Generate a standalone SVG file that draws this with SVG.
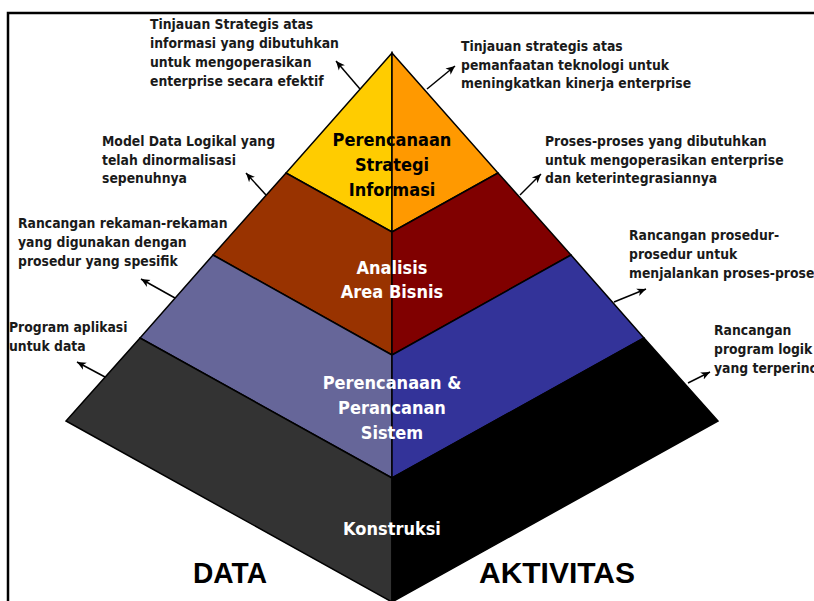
<svg xmlns="http://www.w3.org/2000/svg" width="814" height="601" viewBox="0 0 814 601">
<defs>
<marker id="ah" markerWidth="10" markerHeight="10" refX="9" refY="5" orient="auto" markerUnits="userSpaceOnUse">
<path d="M0,1 L9,5 L0,9 L2.5,5 Z" fill="#000"/>
</marker>
<style>
.face{stroke:#000;stroke-width:1.5;stroke-linejoin:miter}
.ann{font-family:"DejaVu Sans Condensed","DejaVu Sans",sans-serif;font-stretch:condensed;font-weight:bold;font-size:13.8px;fill:#1a1a1a}
.lbl{font-family:"DejaVu Sans Condensed","DejaVu Sans",sans-serif;font-stretch:condensed;font-weight:bold;font-size:18px;text-anchor:middle}
.big{font-family:"Liberation Sans",Arial,sans-serif;font-weight:bold;font-size:29px;fill:#000}
.arr{stroke:#000;stroke-width:1.5;fill:none;marker-end:url(#ah)}
</style>
</defs>
<rect x="0" y="0" width="814" height="601" fill="#fff"/>
<rect x="8" y="13" width="830" height="620" fill="none" stroke="#000" stroke-width="2.5"/>

<g id="layer-strategi">
<polygon class="face" points="392,53 286,173 392,232" fill="#FFCC00"/>
<polygon class="face" points="392,53 498,173 392,232" fill="#FF9900"/>
<text class="lbl" fill="#000"><tspan x="392" y="146">Perencanaan</tspan><tspan x="392" y="171">Strategi</tspan><tspan x="392" y="196">Informasi</tspan></text>
</g>
<g id="layer-analisis">
<polygon class="face" points="286,173 213,255 392,355 392,232" fill="#993300"/>
<polygon class="face" points="498,173 571,255 392,355 392,232" fill="#800000"/>
<text class="lbl" fill="#fff"><tspan x="392" y="274">Analisis</tspan><tspan x="392" y="298">Area Bisnis</tspan></text>
</g>
<g id="layer-perancangan">
<polygon class="face" points="213,255 140,338 392,478 392,355" fill="#666699"/>
<polygon class="face" points="571,255 644,338 392,478 392,355" fill="#333399"/>
<text class="lbl" fill="#fff"><tspan x="392" y="389">Perencanaan &amp;</tspan><tspan x="392" y="414">Perancanan</tspan><tspan x="392" y="439">Sistem</tspan></text>
</g>
<g id="layer-konstruksi">
<polygon class="face" points="140,338 66,421 392,602 392,478" fill="#333333"/>
<polygon class="face" points="644,338 718,421 392,602 392,478" fill="#000000"/>
<text class="lbl" fill="#fff" x="392" y="535">Konstruksi</text>
</g>

<g id="label-data"><text class="big" x="193" y="583" textLength="74" lengthAdjust="spacingAndGlyphs">DATA</text></g>
<g id="label-aktivitas"><text class="big" x="479" y="583" textLength="156" lengthAdjust="spacingAndGlyphs">AKTIVITAS</text></g>

<g id="ann-1"><text class="ann"><tspan x="150" y="29">Tinjauan Strategis atas</tspan><tspan x="150" y="48">informasi yang dibutuhkan</tspan><tspan x="150" y="67">untuk mengoperasikan</tspan><tspan x="150" y="86">enterprise secara efektif</tspan></text></g>
<g id="ann-2"><text class="ann"><tspan x="461" y="51">Tinjauan strategis atas</tspan><tspan x="461" y="70">pemanfaatan teknologi untuk</tspan><tspan x="461" y="88">meningkatkan kinerja enterprise</tspan></text></g>
<g id="ann-3"><text class="ann"><tspan x="102" y="146">Model Data Logikal yang</tspan><tspan x="102" y="165">telah dinormalisasi</tspan><tspan x="102" y="183">sepenuhnya</tspan></text></g>
<g id="ann-4"><text class="ann"><tspan x="545" y="146">Proses-proses yang dibutuhkan</tspan><tspan x="545" y="165">untuk mengoperasikan enterprise</tspan><tspan x="545" y="183">dan keterintegrasiannya</tspan></text></g>
<g id="ann-5"><text class="ann"><tspan x="18" y="228">Rancangan rekaman-rekaman</tspan><tspan x="18" y="247">yang digunakan dengan</tspan><tspan x="18" y="266">prosedur yang spesifik</tspan></text></g>
<g id="ann-6"><text class="ann"><tspan x="629" y="240">Rancangan prosedur-</tspan><tspan x="629" y="259">prosedur untuk</tspan><tspan x="629" y="278">menjalankan proses-proses</tspan></text></g>
<g id="ann-7"><text class="ann"><tspan x="9" y="332">Program aplikasi</tspan><tspan x="9" y="351">untuk data</tspan></text></g>
<g id="ann-8"><text class="ann"><tspan x="714" y="335">Rancangan</tspan><tspan x="714" y="354">program logik</tspan><tspan x="714" y="373">yang terperinci</tspan></text></g>

<g id="connectors">
<line class="arr" x1="360" y1="89" x2="336" y2="61"/>
<line class="arr" x1="427" y1="89" x2="455" y2="66"/>
<line class="arr" x1="266" y1="195" x2="246" y2="173"/>
<line class="arr" x1="520" y1="195" x2="541" y2="174"/>
<line class="arr" x1="175" y1="298" x2="141" y2="279"/>
<line class="arr" x1="614" y1="302" x2="646" y2="289"/>
<line class="arr" x1="105" y1="377" x2="77" y2="362"/>
<line class="arr" x1="688" y1="383" x2="710" y2="372"/>
</g>
</svg>
